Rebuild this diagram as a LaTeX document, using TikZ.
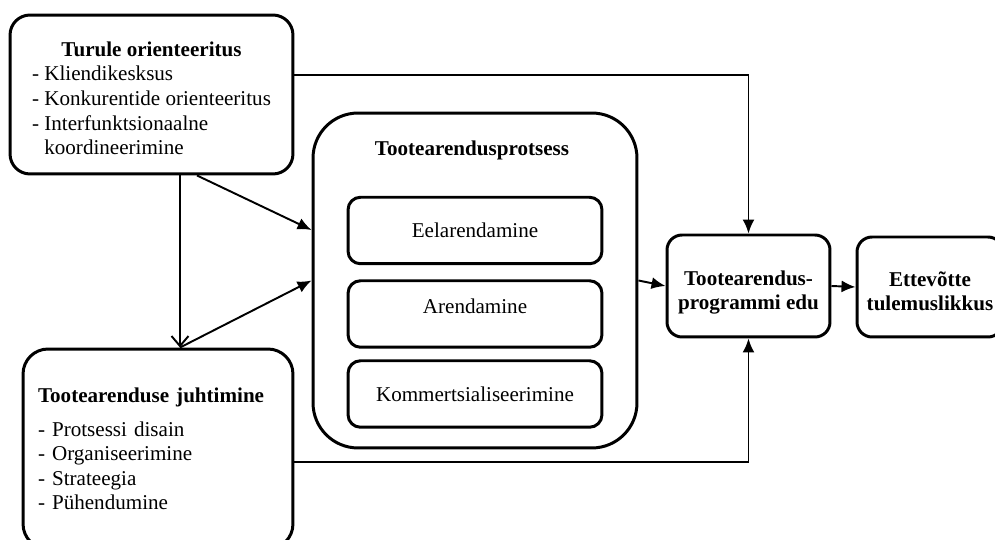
\documentclass[tikz,border=0pt]{standalone}
\usepackage{amsmath}
\usepackage{pgfplots}
\usepackage{fontspec}
\setmainfont{Liberation Serif}
\pgfplotsset{compat=1.5.1}
\usetikzlibrary{arrows.meta}

\begin{document}
\begin{tikzpicture}[x=0.02cm, y=-0.02cm, font=\fontsize{12}{14}\selectfont,
		box/.style={draw, line width=1.7pt, rounded corners=0.4cm, inner sep=0pt},
		sub/.style={draw, line width=1.7pt, rounded corners=0.25cm, minimum width=5.08cm, minimum height=1.33cm},
		arr/.style={line width=1.1pt, -{Latex[length=2.8mm, width=2.4mm]}},
		openarr/.style={line width=1.1pt, -{Straight Barb[length=2mm, width=3.4mm]}}]
		\useasboundingbox (0, 0) rectangle (995, 540);
		\clip (0, 0) rectangle (995, 540);
		\node[box, minimum width=5.66cm, minimum height=3.18cm] (turule) at(151.5, 94.5) {\raisebox{-0.12cm}[\height][\depth]{\begin{tabular}{@{}l@{}}\multicolumn{1}{@{}c@{}}{\textbf{Turule orienteeritus}}\\- Kliendikesksus\\- Konkurentide orienteeritus\\- Interfunktsionaalne\\\hphantom{- }koordineerimine\end{tabular}}};
		\node[box, rounded corners=0.5cm, text width=4.8cm, align=left, inner xsep=0.3cm, minimum height=4cm] (juht) at(158, 449) {\textbf{Tootearenduse juhtimine}\\[5pt]- Protsessi disain\\- Organiseerimine\\- Strateegia\\- Pühendumine};
		\node[box, rounded corners=0.9cm, minimum width=6.48cm, minimum height=6.7cm] (proc) at(475, 280.5) {};
		\node (proctitle) at(472, 150) {\textbf{Tootearendusprotsess}};
		\node[sub] (eel) at(475, 230.5) {Eelarendamine};
		\node[sub] (aren) at(475, 314) {\raisebox{0.16cm}[\height][\depth]{Arendamine}};
		\node[sub] (komm) at(475, 394) {Kommertsialiseerimine};
		\node[box, rounded corners=0.3cm, minimum width=3.26cm, minimum height=2.04cm] (prog) at(748.5, 286) {\raisebox{-0.13cm}[\height][\depth]{\begin{tabular}{@{}c@{}}\textbf{Tootearendus-}\\\textbf{programmi edu}\end{tabular}}};
		\node[box, rounded corners=0.3cm, minimum width=2.92cm, minimum height=2cm] (ette) at(930, 287) {\raisebox{-0.13cm}[\height][\depth]{\begin{tabular}{@{}c@{}}\textbf{Ettevõtte}\\\textbf{tulemuslikkus}\end{tabular}}};
		
		\coordinate (tdown) at([xshift=0.57cm]turule.south);
		\draw[openarr] (tdown) -- (tdown |- juht.north);
		\draw[arr] ([xshift=0.91cm]turule.south) -- ([yshift=1.01cm]proc.west);
		\draw[arr] (tdown |- juht.north) -- (proc.west);
		\draw[arr] ([yshift=0.39cm]turule.east) -| (prog.north);
		\draw[arr] ([yshift=-0.26cm]juht.east) -| (prog.south);
		\draw[arr] (proc.east) -- (prog.west);
		\draw[arr] (prog.east) -- (ette.west);
	\end{tikzpicture}
\end{document}
